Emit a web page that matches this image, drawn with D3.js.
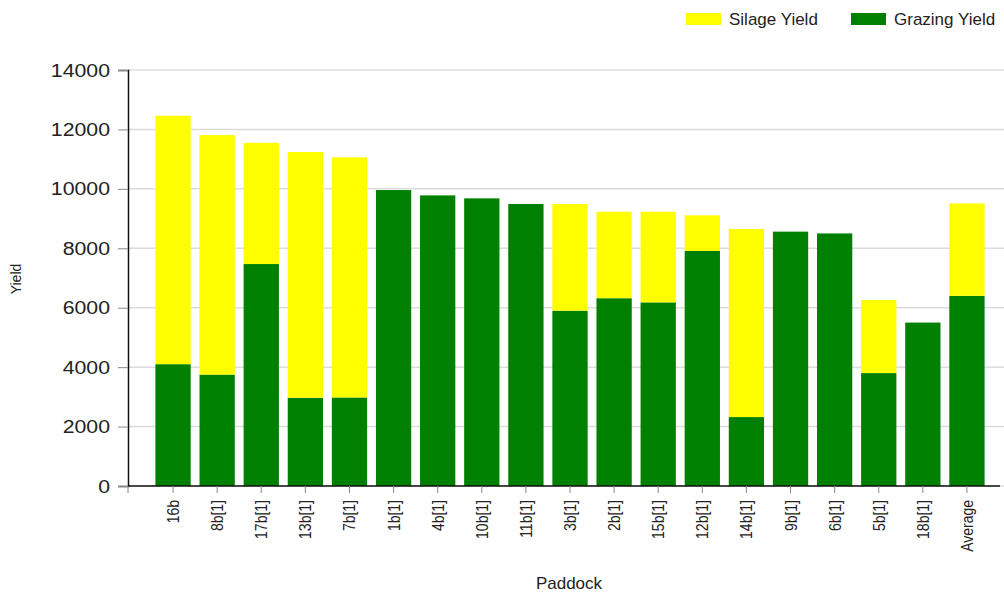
<!DOCTYPE html>
<html>
<head>
<meta charset="utf-8">
<script src="https://cdn.jsdelivr.net/npm/d3@7"></script>
<style>
    body { margin: 0; background: #fff; }
    svg text { font-family: "Liberation Sans", Arial, sans-serif; fill: #222; }
</style>
</head>
<body>
<div id="chart"></div>
<script>
const paddocks = ['16b', '8b[1]', '17b[1]', '13b[1]', '7b[1]', '1b[1]', '4b[1]', '10b[1]', '11b[1]',
    '3b[1]', '2b[1]', '15b[1]', '12b[1]', '14b[1]', '9b[1]', '6b[1]', '5b[1]', '18b[1]', 'Average'];
const grazing = [4100, 3750, 7470, 2970, 2980, 9960, 9780, 9680, 9490,
    5900, 6320, 6180, 7910, 2320, 8560, 8500, 3800, 5500, 6400];
const total = [12460, 11810, 11550, 11240, 11060, 9960, 9780, 9680, 9490,
    9490, 9230, 9230, 9110, 8650, 8560, 8500, 6260, 5500, 9510];
const yTicks = [0, 2000, 4000, 6000, 8000, 10000, 12000, 14000];

const width = 1004;
const height = 593;
const plotLeft = 128;
const plotTop = 70;
const plotBottom = 486;

const svg = d3.select('#chart').append('svg')
    .attr('width', width)
    .attr('height', height);

const x = d3.scaleBand()
    .domain(paddocks)
    .range([151, 989])
    .paddingInner(0.2)
    .paddingOuter(0.1);

const y = d3.scaleLinear()
    .domain([0, 14000])
    .range([plotBottom, plotTop]);

// grid
svg.append('g')
    .selectAll('line')
    .data(yTicks)
    .enter().append('line')
    .attr('x1', plotLeft)
    .attr('x2', width)
    .attr('y1', d => y(d))
    .attr('y2', d => y(d))
    .attr('stroke', '#dcdcdc')
    .attr('stroke-width', 1.5);

// bars: grazing at the bottom, silage stacked on top
svg.append('g')
    .selectAll('rect')
    .data(paddocks)
    .enter().append('rect')
    .attr('x', d => x(d))
    .attr('width', x.bandwidth())
    .attr('y', (d, i) => y(grazing[i]))
    .attr('height', (d, i) => y(0) - y(grazing[i]))
    .attr('fill', '#008000');

svg.append('g')
    .selectAll('rect')
    .data(paddocks)
    .enter().append('rect')
    .attr('x', d => x(d))
    .attr('width', x.bandwidth())
    .attr('y', (d, i) => y(total[i]))
    .attr('height', (d, i) => y(grazing[i]) - y(total[i]))
    .attr('fill', '#ffff00');

// y axis
const yAxis = svg.append('g')
    .attr('transform', 'translate(' + plotLeft + ',0)')
    .call(d3.axisLeft(y).tickValues(yTicks).tickFormat(d3.format('d')).tickSize(10));
yAxis.select('.domain').attr('stroke', '#111').attr('stroke-width', 1.5);
yAxis.selectAll('.tick line').attr('stroke', '#888');
yAxis.selectAll('.tick text')
    .style('font-size', '19px')
    .attr('fill', '#222')
    .attr('x', 0)
    .attr('transform', 'translate(-18,0) scale(1.12,1)');

// x axis
const xAxis = svg.append('g')
    .attr('transform', 'translate(0,' + plotBottom + ')')
    .call(d3.axisBottom(x).tickSize(7).tickSizeOuter(0));
xAxis.select('.domain').attr('d', 'M' + plotLeft + ',0H' + (width - 4))
    .attr('stroke', '#111').attr('stroke-width', 1.5);
xAxis.selectAll('.tick line').attr('stroke', '#888');
xAxis.append('line')
    .attr('x1', plotLeft).attr('x2', plotLeft)
    .attr('y1', 0).attr('y2', 7)
    .attr('stroke', '#888');
xAxis.selectAll('.tick text')
    .style('font-size', '14px')
    .attr('fill', '#222')
    .attr('text-anchor', 'end')
    .attr('transform', 'rotate(-90) scale(1,1.22)')
    .attr('x', -14)
    .attr('y', 0)
    .attr('dy', '0.35em');

// axis titles
svg.append('text')
    .attr('transform', 'translate(21,279) rotate(-90)')
    .attr('text-anchor', 'middle')
    .style('font-size', '14px')
    .text('Yield');

svg.append('text')
    .attr('x', 569)
    .attr('y', 589)
    .attr('text-anchor', 'middle')
    .style('font-size', '17px')
    .text('Paddock');

// legend
const legendItems = [
    { label: 'Silage Yield', color: '#ffff00', x: 686 },
    { label: 'Grazing Yield', color: '#008000', x: 851 }
];
const legend = svg.append('g')
    .selectAll('g')
    .data(legendItems)
    .enter().append('g')
    .attr('transform', d => 'translate(' + d.x + ',13)');
legend.append('rect')
    .attr('width', 35)
    .attr('height', 12)
    .attr('fill', d => d.color);
legend.append('text')
    .attr('x', 43)
    .attr('y', 6)
    .attr('dy', '0.35em')
    .style('font-size', '17px')
    .text(d => d.label);
</script>
</body>
</html>
